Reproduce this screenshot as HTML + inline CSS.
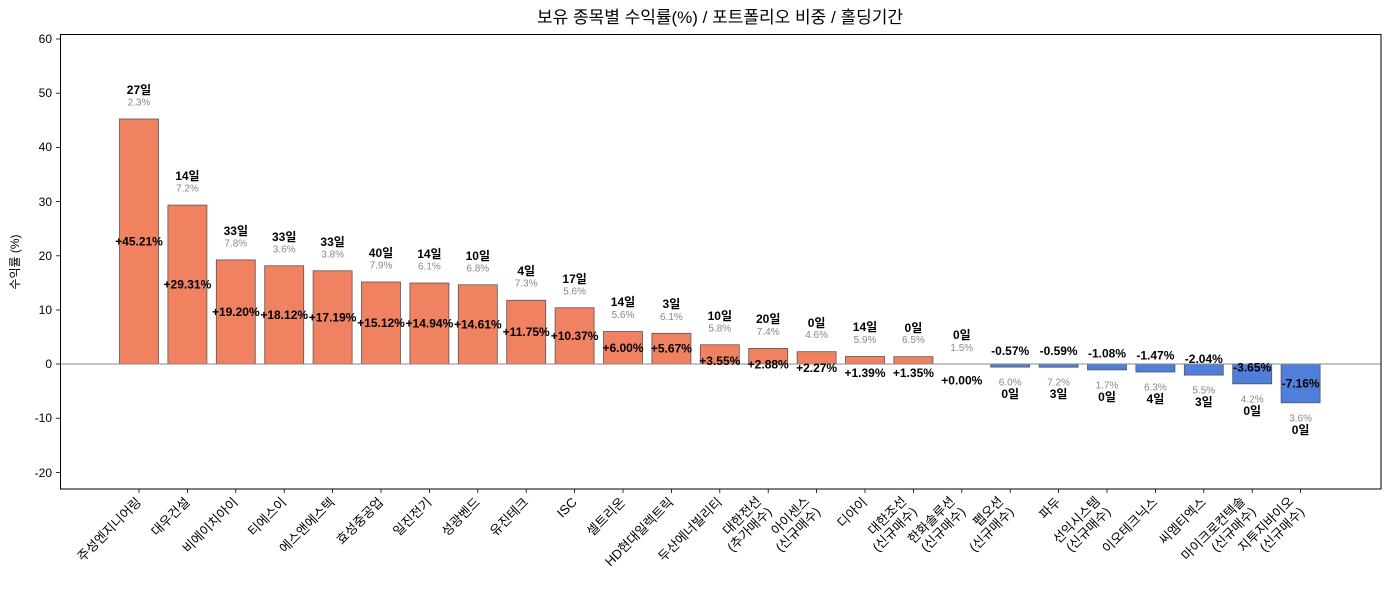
<!DOCTYPE html>
<html><head><meta charset="utf-8"><style>
body{margin:0;background:#fff}
svg{display:block;font-family:"Liberation Sans","Noto Sans CJK KR","NanumGothic",sans-serif}
.b{fill:#f08262;stroke:#555;stroke-width:0.8}
.n{fill:#4f7fdb;stroke:#555;stroke-width:0.8}
.d{font-size:12px;font-weight:bold;fill:#000;text-anchor:middle}
.p{font-size:10px;fill:#888;text-anchor:middle}
.v{font-size:12px;font-weight:bold;fill:#000;text-anchor:middle}
.yt{font-size:12px;text-anchor:end;fill:#000}
.xl{font-size:13px;text-anchor:end;fill:#000}
</style></head><body>
<svg width="1389" height="590" viewBox="0 0 1389 590">
<text x="720" y="23" font-size="17" text-anchor="middle">보유 종목별 수익률(%) / 포트폴리오 비중 / 홀딩기간</text>
<text transform="translate(19,262) rotate(-90)" font-size="12" text-anchor="middle">수익률 (%)</text>
<g stroke="#000" stroke-width="0.8">
<line x1="56" y1="39" x2="60" y2="39"/><line x1="56" y1="93.2" x2="60" y2="93.2"/><line x1="56" y1="147.4" x2="60" y2="147.4"/><line x1="56" y1="201.6" x2="60" y2="201.6"/><line x1="56" y1="255.8" x2="60" y2="255.8"/><line x1="56" y1="310" x2="60" y2="310"/><line x1="56" y1="364" x2="60" y2="364"/><line x1="56" y1="418.2" x2="60" y2="418.2"/><line x1="56" y1="472.4" x2="60" y2="472.4"/>
</g>
<g class="yt">
<text x="52" y="43">60</text><text x="52" y="97">50</text><text x="52" y="151">40</text><text x="52" y="206">30</text><text x="52" y="260">20</text><text x="52" y="314">10</text><text x="52" y="368">0</text><text x="52" y="422">-10</text><text x="52" y="477">-20</text>
</g>
<g>
<rect class="b" x="119.5" y="119" width="39" height="245"/>
<rect class="b" x="167.9" y="205.1" width="39" height="158.9"/>
<rect class="b" x="216.3" y="259.9" width="39" height="104.1"/>
<rect class="b" x="264.7" y="265.8" width="39" height="98.2"/>
<rect class="b" x="313.1" y="270.8" width="39" height="93.2"/>
<rect class="b" x="361.5" y="282" width="39" height="82"/>
<rect class="b" x="409.9" y="283" width="39" height="81"/>
<rect class="b" x="458.3" y="284.8" width="39" height="79.2"/>
<rect class="b" x="506.7" y="300.3" width="39" height="63.7"/>
<rect class="b" x="555.1" y="307.8" width="39" height="56.2"/>
<rect class="b" x="603.5" y="331.5" width="39" height="32.5"/>
<rect class="b" x="651.9" y="333.3" width="39" height="30.7"/>
<rect class="b" x="700.3" y="344.8" width="39" height="19.2"/>
<rect class="b" x="748.7" y="348.4" width="39" height="15.6"/>
<rect class="b" x="797.1" y="351.7" width="39" height="12.3"/>
<rect class="b" x="845.5" y="356.5" width="39" height="7.5"/>
<rect class="b" x="893.9" y="356.7" width="39" height="7.3"/>
<rect class="n" x="990.7" y="364" width="39" height="3.1"/>
<rect class="n" x="1039.1" y="364" width="39" height="3.2"/>
<rect class="n" x="1087.5" y="364" width="39" height="5.9"/>
<rect class="n" x="1135.9" y="364" width="39" height="8"/>
<rect class="n" x="1184.3" y="364" width="39" height="11.1"/>
<rect class="n" x="1232.7" y="364" width="39" height="19.8"/>
<rect class="n" x="1281.1" y="364" width="39" height="38.8"/>
</g>
<line x1="60" y1="364" x2="1381" y2="364" stroke="#888" stroke-width="1"/>
<rect x="60.5" y="34.5" width="1320.5" height="454.5" fill="none" stroke="#000" stroke-width="1"/>
<g class="v">
<text x="139" y="245.5">+45.21%</text><text x="187.4" y="288.5">+29.31%</text><text x="235.8" y="316">+19.20%</text><text x="284.2" y="319">+18.12%</text><text x="332.6" y="321.5">+17.19%</text><text x="381" y="327">+15.12%</text><text x="429.4" y="327.5">+14.94%</text><text x="477.8" y="328.5">+14.61%</text><text x="526.2" y="336">+11.75%</text><text x="574.6" y="340">+10.37%</text><text x="623" y="352">+6.00%</text><text x="671.4" y="352.5">+5.67%</text><text x="719.8" y="365">+3.55%</text><text x="768.2" y="368.5">+2.88%</text><text x="816.6" y="372">+2.27%</text><text x="865" y="377">+1.39%</text><text x="913.4" y="377">+1.35%</text><text x="961.8" y="384.5">+0.00%</text>
<text x="1010.2" y="355">-0.57%</text><text x="1058.6" y="355">-0.59%</text><text x="1107" y="357.5">-1.08%</text><text x="1155.4" y="359.5">-1.47%</text><text x="1203.8" y="363">-2.04%</text><text x="1252.2" y="371.5">-3.65%</text><text x="1300.6" y="387.5">-7.16%</text>
</g>
<g class="d">
<text x="139" y="94">27일</text><text x="187.4" y="180">14일</text><text x="235.8" y="235">33일</text><text x="284.2" y="241">33일</text><text x="332.6" y="246">33일</text><text x="381" y="257">40일</text><text x="429.4" y="258">14일</text><text x="477.8" y="260">10일</text><text x="526.2" y="275">4일</text><text x="574.6" y="283">17일</text><text x="623" y="306">14일</text><text x="671.4" y="308">3일</text><text x="719.8" y="320">10일</text><text x="768.2" y="323">20일</text><text x="816.6" y="327">0일</text><text x="865" y="331">14일</text><text x="913.4" y="332">0일</text><text x="961.8" y="339">0일</text>
<text x="1010.2" y="398">0일</text><text x="1058.6" y="398">3일</text><text x="1107" y="401">0일</text><text x="1155.4" y="403">4일</text><text x="1203.8" y="406">3일</text><text x="1252.2" y="415">0일</text><text x="1300.6" y="434">0일</text>
</g>
<g class="p">
<text x="139" y="105.5">2.3%</text><text x="187.4" y="191.5">7.2%</text><text x="235.8" y="246.5">7.8%</text><text x="284.2" y="252.5">3.6%</text><text x="332.6" y="257.5">3.8%</text><text x="381" y="268.5">7.9%</text><text x="429.4" y="269.5">6.1%</text><text x="477.8" y="271.5">6.8%</text><text x="526.2" y="286.5">7.3%</text><text x="574.6" y="294.5">5.6%</text><text x="623" y="318">5.6%</text><text x="671.4" y="320">6.1%</text><text x="719.8" y="331.5">5.8%</text><text x="768.2" y="335">7.4%</text><text x="816.6" y="338">4.6%</text><text x="865" y="343">5.9%</text><text x="913.4" y="343">6.5%</text><text x="961.8" y="351">1.5%</text>
<text x="1010.2" y="385.5">6.0%</text><text x="1058.6" y="385.5">7.2%</text><text x="1107" y="388.5">1.7%</text><text x="1155.4" y="390.5">6.3%</text><text x="1203.8" y="393.5">5.5%</text><text x="1252.2" y="402.5">4.2%</text><text x="1300.6" y="421.5">3.6%</text>
</g>
<g stroke="#000" stroke-width="0.8">
<line x1="139" y1="489" x2="139" y2="493"/><line x1="187.4" y1="489" x2="187.4" y2="493"/><line x1="235.8" y1="489" x2="235.8" y2="493"/><line x1="284.2" y1="489" x2="284.2" y2="493"/><line x1="332.6" y1="489" x2="332.6" y2="493"/><line x1="381" y1="489" x2="381" y2="493"/><line x1="429.4" y1="489" x2="429.4" y2="493"/><line x1="477.8" y1="489" x2="477.8" y2="493"/><line x1="526.2" y1="489" x2="526.2" y2="493"/><line x1="574.6" y1="489" x2="574.6" y2="493"/><line x1="623" y1="489" x2="623" y2="493"/><line x1="671.4" y1="489" x2="671.4" y2="493"/><line x1="719.8" y1="489" x2="719.8" y2="493"/><line x1="768.2" y1="489" x2="768.2" y2="493"/><line x1="816.6" y1="489" x2="816.6" y2="493"/><line x1="865" y1="489" x2="865" y2="493"/><line x1="913.4" y1="489" x2="913.4" y2="493"/><line x1="961.8" y1="489" x2="961.8" y2="493"/><line x1="1010.2" y1="489" x2="1010.2" y2="493"/><line x1="1058.6" y1="489" x2="1058.6" y2="493"/><line x1="1107" y1="489" x2="1107" y2="493"/><line x1="1155.4" y1="489" x2="1155.4" y2="493"/><line x1="1203.8" y1="489" x2="1203.8" y2="493"/><line x1="1252.2" y1="489" x2="1252.2" y2="493"/><line x1="1300.6" y1="489" x2="1300.6" y2="493"/>
</g>
<g class="xl">
<text transform="translate(142,503) rotate(-45)">주성엔지니어링</text>
<text transform="translate(190.4,503) rotate(-45)">대우건설</text>
<text transform="translate(238.8,503) rotate(-45)">비에이치아이</text>
<text transform="translate(287.2,503) rotate(-45)">티에스이</text>
<text transform="translate(335.6,503) rotate(-45)">에스앤에스텍</text>
<text transform="translate(384,503) rotate(-45)">효성중공업</text>
<text transform="translate(432.4,503) rotate(-45)">일진전기</text>
<text transform="translate(480.8,503) rotate(-45)">성광벤드</text>
<text transform="translate(529.2,503) rotate(-45)">유진테크</text>
<text transform="translate(577.6,503) rotate(-45)">ISC</text>
<text transform="translate(626,503) rotate(-45)">셀트리온</text>
<text transform="translate(674.4,503) rotate(-45)">HD현대일렉트릭</text>
<text transform="translate(722.8,503) rotate(-45)">두산에너빌리티</text>
<text transform="translate(762,502) rotate(-45)"><tspan x="0" y="0">대한전선</tspan><tspan x="0" y="15">(추가매수)</tspan></text>
<text transform="translate(810.4,502) rotate(-45)"><tspan x="0" y="0">아이센스</tspan><tspan x="0" y="15">(신규매수)</tspan></text>
<text transform="translate(868,503) rotate(-45)">디아이</text>
<text transform="translate(907.2,502) rotate(-45)"><tspan x="0" y="0">대한조선</tspan><tspan x="0" y="15">(신규매수)</tspan></text>
<text transform="translate(955.6,502) rotate(-45)"><tspan x="0" y="0">한화솔루션</tspan><tspan x="0" y="15">(신규매수)</tspan></text>
<text transform="translate(1004,502) rotate(-45)"><tspan x="0" y="0">펩오션</tspan><tspan x="0" y="15">(신규매수)</tspan></text>
<text transform="translate(1061.6,503) rotate(-45)">파두</text>
<text transform="translate(1100.8,502) rotate(-45)"><tspan x="0" y="0">선익시스템</tspan><tspan x="0" y="15">(신규매수)</tspan></text>
<text transform="translate(1158.4,503) rotate(-45)">이오테크닉스</text>
<text transform="translate(1206.8,503) rotate(-45)">씨엠티엑스</text>
<text transform="translate(1246,502) rotate(-45)"><tspan x="0" y="0">마이크로컨텍솔</tspan><tspan x="0" y="15">(신규매수)</tspan></text>
<text transform="translate(1294.4,502) rotate(-45)"><tspan x="0" y="0">지투지바이오</tspan><tspan x="0" y="15">(신규매수)</tspan></text>
</g>
</svg>
</body></html>
